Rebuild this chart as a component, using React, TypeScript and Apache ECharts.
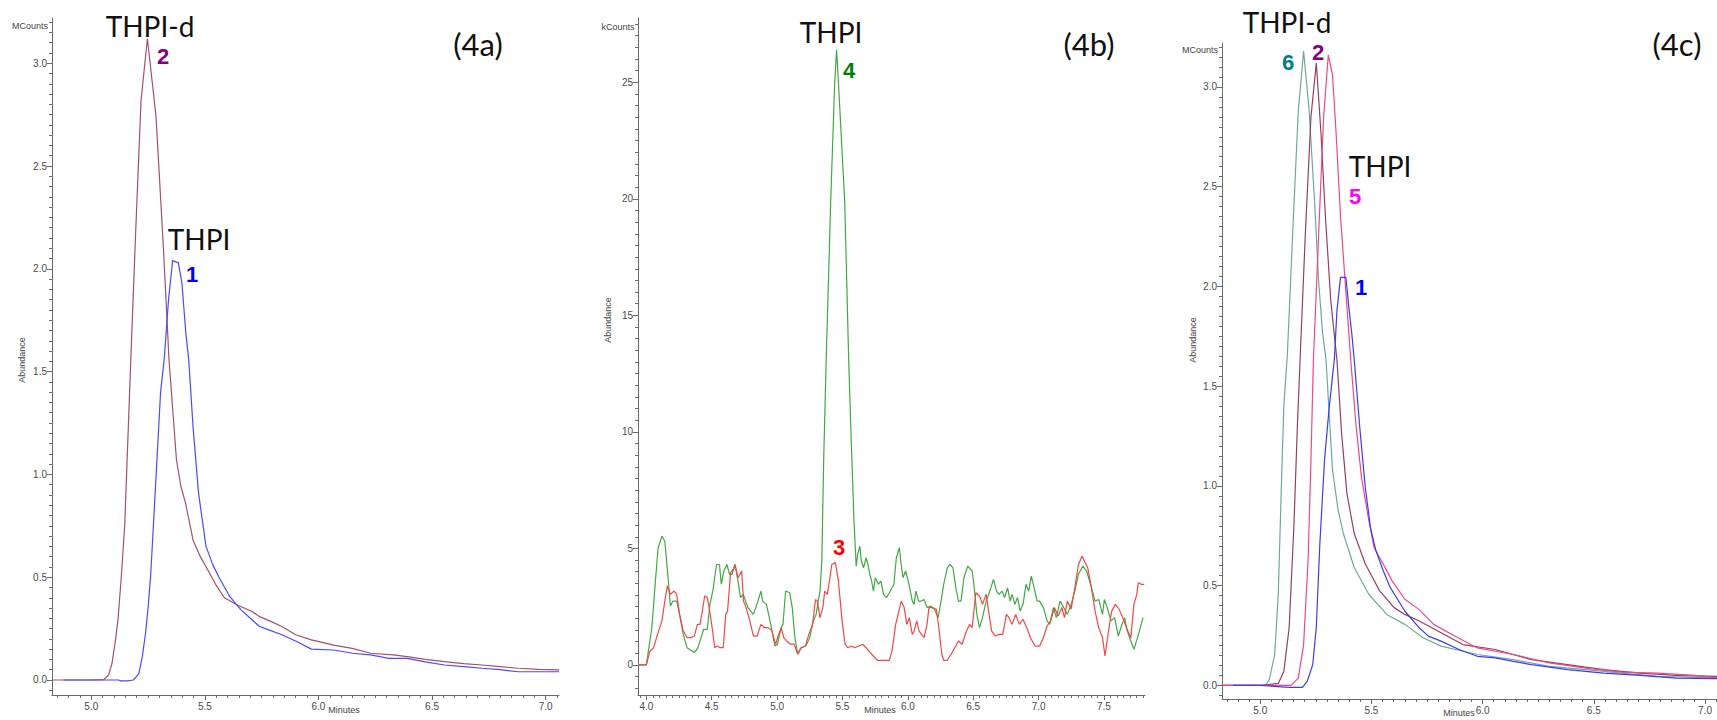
import React, { useEffect, useRef } from "react";
import * as echarts from "echarts";

// ---------- Panel (4a) ----------
const A_THPI_D: number[][] = [
  [4.83, 0], [5.0, 0], [5.055, 0.002], [5.076, 0.024], [5.091, 0.08], [5.106, 0.19], [5.118, 0.3], [5.132, 0.5],
  [5.147, 0.75], [5.163, 1.23], [5.174, 1.56], [5.195, 2.17], [5.219, 2.82], [5.247, 3.12], [5.285, 2.74], [5.318, 2.09],
  [5.342, 1.56], [5.375, 1.07], [5.395, 0.94], [5.415, 0.86], [5.448, 0.68], [5.48, 0.6], [5.513, 0.535], [5.55, 0.46],
  [5.586, 0.4], [5.643, 0.365], [5.708, 0.333], [5.741, 0.308], [5.79, 0.285], [5.839, 0.26], [5.9, 0.22], [5.969, 0.195],
  [6.067, 0.17], [6.148, 0.154], [6.23, 0.13], [6.33, 0.122], [6.39, 0.114], [6.47, 0.1], [6.555, 0.089], [6.64, 0.08],
  [6.72, 0.073], [6.8, 0.065], [6.88, 0.057], [6.97, 0.052], [7.06, 0.049],
];
const A_THPI: number[][] = [
  [4.878, 0], [5.0, 0], [5.12, 0], [5.13, -0.004], [5.16, -0.004], [5.185, 0], [5.209, 0.03], [5.224, 0.11],
  [5.238, 0.22], [5.25, 0.35], [5.262, 0.52], [5.285, 0.99], [5.305, 1.4], [5.321, 1.56], [5.34, 1.85], [5.358, 2.04],
  [5.383, 2.03], [5.399, 1.93], [5.416, 1.69], [5.429, 1.556], [5.448, 1.23], [5.472, 0.91], [5.505, 0.65], [5.535, 0.56],
  [5.562, 0.5], [5.61, 0.405], [5.66, 0.34], [5.7, 0.3], [5.741, 0.26], [5.79, 0.24], [5.839, 0.22], [5.904, 0.187],
  [5.969, 0.15], [6.067, 0.146], [6.15, 0.13], [6.23, 0.122], [6.31, 0.105], [6.39, 0.105], [6.47, 0.088], [6.555, 0.073],
  [6.64, 0.065], [6.72, 0.057], [6.8, 0.05], [6.88, 0.04], [6.97, 0.04], [7.06, 0.04],
];

// ---------- Panel (4b) ----------
const B_THPI_GREEN: number[][] = [
  [3.94, 0], [4.0, 0], [4.042, 1.6], [4.071, 3.74], [4.09, 5.03], [4.119, 5.53], [4.141, 5.31], [4.164, 3.89],
  [4.184, 2.53], [4.203, 2.74], [4.232, 2.74], [4.254, 2.17], [4.282, 1.31], [4.311, 0.74], [4.367, 0.53], [4.395, 0.74],
  [4.438, 1.53], [4.466, 1.53], [4.486, 2.6], [4.508, 3.17], [4.537, 4.31], [4.559, 4.31], [4.573, 3.46], [4.593, 4.03],
  [4.616, 4.31], [4.636, 3.89], [4.655, 3.89], [4.678, 4.31], [4.701, 3.6], [4.72, 2.89], [4.74, 3.03], [4.777, 2.46],
  [4.819, 2.17], [4.853, 2.74], [4.876, 3.17], [4.89, 2.74], [4.918, 2.6], [4.946, 1.89], [4.983, 0.81], [5.003, 0.89],
  [5.031, 1.6], [5.045, 1.74], [5.065, 3.17], [5.096, 3.1], [5.116, 2.46], [5.136, 1.17], [5.158, 0.46], [5.186, 0.74],
  [5.22, 0.81], [5.249, 1.17], [5.277, 1.89], [5.299, 2.17], [5.314, 2.74], [5.328, 3.17], [5.342, 4.46], [5.356, 8.74],
  [5.375, 13.0], [5.41, 19.9], [5.44, 24.9], [5.455, 26.4], [5.47, 24.9], [5.517, 19.9], [5.548, 13.0], [5.568, 9.46],
  [5.588, 6.17], [5.605, 4.24], [5.616, 4.74], [5.633, 5.1], [5.644, 4.46], [5.661, 4.17], [5.681, 4.6], [5.695, 4.31],
  [5.709, 3.89], [5.723, 3.6], [5.737, 3.17], [5.751, 3.74], [5.774, 3.46], [5.794, 3.6], [5.814, 3.03], [5.836, 2.89],
  [5.859, 3.1], [5.893, 3.46], [5.912, 4.6], [5.935, 5.03], [5.949, 4.31], [5.963, 3.74], [5.983, 4.03], [6.006, 3.53],
  [6.034, 2.74], [6.048, 2.6], [6.062, 3.17], [6.082, 2.74], [6.105, 2.74], [6.124, 2.81], [6.147, 2.46], [6.175, 2.53],
  [6.203, 2.39], [6.232, 2.03], [6.254, 2.74], [6.274, 3.46], [6.302, 4.17], [6.322, 4.31], [6.345, 4.17], [6.367, 3.31],
  [6.387, 2.74], [6.407, 2.74], [6.429, 3.74], [6.458, 4.24], [6.492, 4.03], [6.508, 3.31], [6.528, 2.17], [6.548, 1.6],
  [6.571, 2.03], [6.599, 2.74], [6.627, 3.17], [6.655, 3.67], [6.678, 3.17], [6.698, 3.03], [6.72, 3.17], [6.74, 2.89],
  [6.763, 3.31], [6.782, 2.74], [6.797, 3.03], [6.819, 2.6], [6.839, 2.89], [6.859, 2.31], [6.881, 2.6], [6.904, 3.46],
  [6.924, 3.17], [6.944, 3.81], [6.966, 3.31], [6.989, 2.74], [7.008, 2.74], [7.037, 2.46], [7.065, 1.89], [7.085, 1.74],
  [7.113, 2.46], [7.136, 2.03], [7.164, 2.74], [7.192, 2.46], [7.22, 2.17], [7.249, 2.6], [7.277, 3.17], [7.305, 3.89],
  [7.339, 4.24], [7.367, 4.03], [7.39, 3.6], [7.412, 3.17], [7.432, 2.74], [7.46, 2.81], [7.489, 2.17], [7.503, 2.81],
  [7.525, 2.46], [7.554, 1.89], [7.582, 2.03], [7.61, 1.24], [7.638, 1.74], [7.658, 2.03], [7.678, 1.46], [7.701, 1.1],
  [7.729, 0.67], [7.757, 1.17], [7.799, 2.03],
];
const B_THPI_RED: number[][] = [
  [3.94, 0], [4.0, 0], [4.028, 0.6], [4.056, 0.74], [4.085, 1.31], [4.119, 1.89], [4.141, 2.74], [4.161, 3.39],
  [4.184, 3.03], [4.212, 3.17], [4.232, 3.03], [4.254, 2.17], [4.282, 1.46], [4.311, 1.17], [4.339, 1.17], [4.367, 1.24],
  [4.39, 1.74], [4.41, 1.74], [4.424, 2.17], [4.446, 2.96], [4.466, 2.89], [4.48, 2.46], [4.503, 1.6], [4.523, 0.74],
  [4.542, 0.81], [4.565, 0.74], [4.588, 0.74], [4.607, 2.17], [4.621, 2.31], [4.644, 3.96], [4.664, 4.1], [4.678, 4.31],
  [4.701, 3.74], [4.729, 4.03], [4.743, 2.74], [4.763, 2.46], [4.791, 1.89], [4.819, 1.24], [4.847, 1.24], [4.876, 1.74],
  [4.904, 1.6], [4.932, 1.6], [4.96, 1.46], [4.989, 0.89], [5.011, 1.31], [5.031, 1.6], [5.051, 1.17], [5.073, 1.03],
  [5.102, 0.89], [5.13, 0.89], [5.158, 0.46], [5.181, 0.74], [5.215, 0.81], [5.243, 1.31], [5.271, 1.74], [5.294, 2.81],
  [5.308, 2.74], [5.328, 2.03], [5.35, 2.46], [5.364, 3.17], [5.384, 3.03], [5.404, 3.74], [5.418, 4.31], [5.446, 4.39],
  [5.469, 3.6], [5.497, 1.89], [5.52, 0.89], [5.54, 0.74], [5.568, 0.81], [5.596, 0.74], [5.624, 0.81], [5.653, 0.89],
  [5.681, 0.74], [5.723, 0.46], [5.766, 0.2], [5.808, 0.2], [5.859, 0.2], [5.879, 0.6], [5.907, 1.74], [5.935, 2.39],
  [5.949, 2.74], [5.972, 2.46], [5.992, 1.74], [6.011, 2.03], [6.034, 1.31], [6.048, 1.46], [6.068, 1.89], [6.085, 1.46],
  [6.105, 1.31], [6.124, 1.17], [6.147, 1.74], [6.161, 2.46], [6.189, 2.46], [6.218, 2.39], [6.237, 1.6], [6.26, 0.46],
  [6.274, 0.2], [6.302, 0.2], [6.331, 0.46], [6.359, 0.74], [6.387, 1.03], [6.415, 0.89], [6.444, 1.39], [6.472, 1.74],
  [6.492, 1.6], [6.52, 3.1], [6.548, 2.96], [6.571, 2.6], [6.599, 3.03], [6.621, 2.17], [6.641, 1.46], [6.669, 1.24],
  [6.698, 1.31], [6.726, 1.31], [6.754, 2.17], [6.774, 2.03], [6.797, 1.74], [6.825, 2.17], [6.853, 1.74], [6.881, 1.96],
  [6.91, 1.6], [6.938, 1.17], [6.972, 0.81], [7.008, 0.81], [7.037, 1.17], [7.065, 1.67], [7.093, 1.89], [7.121, 2.46],
  [7.15, 2.1], [7.178, 2.46], [7.198, 2.03], [7.22, 2.74], [7.249, 2.39], [7.277, 3.31], [7.305, 4.31], [7.333, 4.67],
  [7.356, 4.39], [7.376, 4.17], [7.404, 3.31], [7.432, 2.31], [7.46, 1.6], [7.489, 1.17], [7.508, 0.39], [7.531, 1.31],
  [7.559, 2.31], [7.588, 2.6], [7.616, 2.39], [7.644, 2.03], [7.672, 1.6], [7.706, 1.17], [7.729, 2.6], [7.751, 3.03],
  [7.763, 3.53], [7.785, 3.46], [7.808, 3.46],
];

// ---------- Panel (4c) ----------
const C_TEAL_6: number[][] = [
  [4.83, 0], [5.0, 0], [5.024, 0], [5.041, 0.03], [5.065, 0.155], [5.081, 0.457], [5.094, 0.96], [5.106, 1.4],
  [5.122, 1.66], [5.146, 2.27], [5.171, 2.88], [5.195, 3.18], [5.22, 2.88], [5.244, 2.43], [5.263, 2.02], [5.28, 1.77],
  [5.296, 1.63], [5.309, 1.38], [5.325, 1.08], [5.35, 0.88], [5.374, 0.76], [5.423, 0.59], [5.488, 0.457], [5.569, 0.356],
  [5.65, 0.306], [5.732, 0.239], [5.813, 0.197], [5.976, 0.155], [6.138, 0.129], [6.3, 0.096], [6.463, 0.079],
  [6.626, 0.062], [6.789, 0.045], [6.95, 0.04], [7.057, 0.037],
];
const C_MAROON_2: number[][] = [
  [4.83, 0], [5.0, 0], [5.081, 0.01], [5.106, 0.07], [5.13, 0.29], [5.151, 0.79], [5.167, 1.3], [5.179, 1.63],
  [5.203, 2.27], [5.228, 2.85], [5.252, 3.12], [5.273, 2.77], [5.293, 2.35], [5.317, 1.93], [5.345, 1.63], [5.366, 1.26],
  [5.39, 0.96], [5.423, 0.76], [5.472, 0.61], [5.537, 0.474], [5.602, 0.39], [5.65, 0.356], [5.715, 0.323],
  [5.813, 0.264], [5.911, 0.205], [6.057, 0.18], [6.22, 0.129], [6.382, 0.104], [6.545, 0.079], [6.707, 0.062],
  [6.87, 0.05], [7.057, 0.045],
];
const C_PINK_5: number[][] = [
  [4.83, 0], [5.0, 0], [5.138, 0], [5.171, 0.037], [5.195, 0.205], [5.215, 0.625], [5.228, 1.13], [5.239, 1.63],
  [5.263, 2.27], [5.285, 2.85], [5.306, 3.16], [5.325, 3.06], [5.341, 2.77], [5.361, 2.35], [5.382, 2.02], [5.398, 1.77],
  [5.407, 1.63], [5.431, 1.3], [5.455, 1.045], [5.488, 0.827], [5.512, 0.69], [5.545, 0.625], [5.593, 0.524],
  [5.65, 0.432], [5.715, 0.38], [5.78, 0.306], [5.862, 0.255], [5.976, 0.188], [6.138, 0.155], [6.3, 0.113],
  [6.463, 0.087], [6.626, 0.067], [6.789, 0.062], [6.95, 0.05], [7.057, 0.037],
];
const C_BLUE_1: number[][] = [
  [4.878, 0], [5.0, 0], [5.13, -0.01], [5.19, -0.01], [5.211, 0.02], [5.236, 0.104], [5.252, 0.29], [5.268, 0.71],
  [5.289, 1.13], [5.309, 1.38], [5.325, 1.55], [5.333, 1.63], [5.345, 1.88], [5.361, 2.045], [5.385, 2.045], [5.398, 1.9],
  [5.411, 1.77], [5.423, 1.63], [5.447, 1.3], [5.472, 0.995], [5.496, 0.79], [5.52, 0.676], [5.553, 0.575],
  [5.585, 0.49], [5.65, 0.373], [5.715, 0.289], [5.756, 0.247], [5.813, 0.222], [5.894, 0.18], [5.976, 0.146],
  [6.057, 0.138], [6.138, 0.121], [6.22, 0.104], [6.382, 0.079], [6.545, 0.062], [6.707, 0.05], [6.87, 0.037],
  [7.057, 0.034],
];

// ---------- Axis ticks ----------
const X_MAJOR_AC = [5.0, 5.5, 6.0, 6.5, 7.0];
const X_MINOR_AC = [4.85, 4.9, 4.95, 5, 5.05, 5.1, 5.15, 5.2, 5.25, 5.3, 5.35, 5.4, 5.45, 5.5, 5.55, 5.6, 5.65, 5.7,
  5.75, 5.8, 5.85, 5.9, 5.95, 6, 6.05, 6.1, 6.15, 6.2, 6.25, 6.3, 6.35, 6.4, 6.45, 6.5, 6.55, 6.6, 6.65, 6.7, 6.75, 6.8,
  6.85, 6.9, 6.95, 7, 7.05];
const Y_MAJOR_AC = [0, 0.5, 1.0, 1.5, 2.0, 2.5, 3.0];
const Y_MINOR_AC = [-0.05, 0, 0.05, 0.1, 0.15, 0.2, 0.25, 0.3, 0.35, 0.4, 0.45, 0.5, 0.55, 0.6, 0.65, 0.7, 0.75, 0.8,
  0.85, 0.9, 0.95, 1, 1.05, 1.1, 1.15, 1.2, 1.25, 1.3, 1.35, 1.4, 1.45, 1.5, 1.55, 1.6, 1.65, 1.7, 1.75, 1.8, 1.85, 1.9,
  1.95, 2, 2.05, 2.1, 2.15, 2.2, 2.25, 2.3, 2.35, 2.4, 2.45, 2.5, 2.55, 2.6, 2.65, 2.7, 2.75, 2.8, 2.85, 2.9, 2.95, 3,
  3.05, 3.1, 3.15, 3.2];
const X_MAJOR_B = [4.0, 4.5, 5.0, 5.5, 6.0, 6.5, 7.0, 7.5];
const X_MINOR_B = [3.95, 4, 4.05, 4.1, 4.15, 4.2, 4.25, 4.3, 4.35, 4.4, 4.45, 4.5, 4.55, 4.6, 4.65, 4.7, 4.75, 4.8,
  4.85, 4.9, 4.95, 5, 5.05, 5.1, 5.15, 5.2, 5.25, 5.3, 5.35, 5.4, 5.45, 5.5, 5.55, 5.6, 5.65, 5.7, 5.75, 5.8, 5.85, 5.9,
  5.95, 6, 6.05, 6.1, 6.15, 6.2, 6.25, 6.3, 6.35, 6.4, 6.45, 6.5, 6.55, 6.6, 6.65, 6.7, 6.75, 6.8, 6.85, 6.9, 6.95, 7,
  7.05, 7.1, 7.15, 7.2, 7.25, 7.3, 7.35, 7.4, 7.45, 7.5, 7.55, 7.6, 7.65, 7.7, 7.75, 7.8];
const Y_MAJOR_B = [0, 5, 10, 15, 20, 25];
const Y_MINOR_B = [-1, -0.5, 0, 0.5, 1, 1.5, 2, 2.5, 3, 3.5, 4, 4.5, 5, 5.5, 6, 6.5, 7, 7.5, 8, 8.5, 9, 9.5, 10, 10.5,
  11, 11.5, 12, 12.5, 13, 13.5, 14, 14.5, 15, 15.5, 16, 16.5, 17, 17.5, 18, 18.5, 19, 19.5, 20, 20.5, 21, 21.5, 22,
  22.5, 23, 23.5, 24, 24.5, 25, 25.5, 26, 26.5, 27, 27.5];

const AXIS_COLOR = "#6a6a6a";
const LABEL_COLOR = "#4a4a4a";
const TICK_FONT = "Liberation Sans";

function xAxes(grid: number, min: number, max: number, major: number[], minor: number[]) {
  return [
    {
      type: "value", gridIndex: grid, min, max, position: "bottom",
      axisLine: { show: true, onZero: false, lineStyle: { color: AXIS_COLOR, width: 1 } },
      axisTick: { show: true, length: 5, customValues: major, lineStyle: { color: AXIS_COLOR } },
      axisLabel: {
        customValues: major, formatter: (v: number) => v.toFixed(1), fontSize: 10,
        color: LABEL_COLOR, fontFamily: TICK_FONT, margin: 6,
      },
      splitLine: { show: false },
    },
    {
      type: "value", gridIndex: grid, min, max, position: "bottom",
      axisLine: { show: false, onZero: false },
      axisTick: { show: true, length: 3, customValues: minor, lineStyle: { color: AXIS_COLOR } },
      axisLabel: { show: false },
      splitLine: { show: false },
    },
  ];
}

function yAxes(grid: number, min: number, max: number, major: number[], minor: number[], digits: number) {
  return [
    {
      type: "value", gridIndex: grid, min, max, position: "left",
      axisLine: { show: true, onZero: false, lineStyle: { color: AXIS_COLOR, width: 1 } },
      axisTick: { show: true, length: 5, customValues: major, lineStyle: { color: AXIS_COLOR } },
      axisLabel: {
        customValues: major, formatter: (v: number) => v.toFixed(digits), fontSize: 10,
        color: LABEL_COLOR, fontFamily: TICK_FONT, margin: 5,
      },
      splitLine: { show: false },
    },
    {
      type: "value", gridIndex: grid, min, max, position: "left",
      axisLine: { show: false, onZero: false },
      axisTick: { show: true, length: 3, customValues: minor, lineStyle: { color: AXIS_COLOR } },
      axisLabel: { show: false },
      splitLine: { show: false },
    },
  ];
}

function line(data: number[][], grid: number, color: string, z = 2) {
  return {
    type: "line", data, xAxisIndex: grid * 2, yAxisIndex: grid * 2,
    showSymbol: false, symbol: "none", smooth: false, z,
    lineStyle: { color, width: 1.2 },
  };
}

const BIG = '28px Lato';
const PANEL = '31px Lato';
const NUM = 'bold 22px "Liberation Sans"';
const SMALL = '9px "Liberation Sans"';

function txt(text: string, x: number, y: number, font: string, fill: string, rotation = 0) {
  return {
    type: "text", x, y, rotation, z: 100,
    style: { text, font, fill, align: "center", verticalAlign: "middle" },
  };
}

export default function App() {
  const ref = useRef<HTMLDivElement>(null);
  useEffect(() => {
    document.body.style.margin = "0";
    const chart = echarts.init(ref.current!, null, { renderer: "svg" });
    const option: any = {
      animation: false,
      backgroundColor: "#ffffff",
      grid: [
        { left: 52, top: 18, width: 507, height: 677, outerBoundsMode: "none" },
        { left: 638, top: 18, width: 507, height: 677, outerBoundsMode: "none" },
        { left: 1222, top: 43, width: 495, height: 656, outerBoundsMode: "none" },
      ],
      xAxis: [
        ...xAxes(0, 4.827, 7.059, X_MAJOR_AC, X_MINOR_AC),
        ...xAxes(1, 3.936, 7.814, X_MAJOR_B, X_MINOR_B),
        ...xAxes(2, 4.828, 7.054, X_MAJOR_AC, X_MINOR_AC),
      ],
      yAxis: [
        ...yAxes(0, -0.073, 3.22, Y_MAJOR_AC, Y_MINOR_AC, 1),
        ...yAxes(1, -1.29, 27.76, Y_MAJOR_B, Y_MINOR_B, 0),
        ...yAxes(2, -0.068, 3.22, Y_MAJOR_AC, Y_MINOR_AC, 1),
      ],
      series: [
        line(A_THPI_D, 0, "#a3506f"),
        line(A_THPI, 0, "#4a4aff", 3),
        line(B_THPI_GREEN, 1, "#43a843"),
        line(B_THPI_RED, 1, "#f04848", 3),
        line(C_TEAL_6, 2, "#6fa89c"),
        line(C_MAROON_2, 2, "#94405f"),
        line(C_PINK_5, 2, "#f0468a"),
        line(C_BLUE_1, 2, "#3c3cf0", 3),
      ],
      graphic: [
        // panel a
        txt("MCounts", 30, 26, SMALL, "#444"),
        txt("Abundance", 22, 360, SMALL, "#444", Math.PI / 2),
        txt("Minutes", 344, 710, SMALL, "#444"),
        txt("THPI-d", 150, 26, BIG, "#111"),
        txt("2", 163, 56, NUM, "#800080"),
        txt("THPI", 199, 239, BIG, "#111"),
        txt("1", 192, 274, NUM, "#0000ff"),
        txt("(4a)", 478, 44, PANEL, "#111"),
        // panel b
        txt("kCounts", 618, 27, SMALL, "#444"),
        txt("Abundance", 608, 320, SMALL, "#444", Math.PI / 2),
        txt("Minutes", 880, 710, SMALL, "#444"),
        txt("THPI", 831, 32, BIG, "#111"),
        txt("4", 849, 70, NUM, "#008000"),
        txt("3", 839, 547, NUM, "#ff0000"),
        txt("(4b)", 1089, 44, PANEL, "#111"),
        // panel c
        txt("MCounts", 1200, 50, SMALL, "#444"),
        txt("Abundance", 1193, 340, SMALL, "#444", Math.PI / 2),
        txt("Minutes", 1459, 713, SMALL, "#444"),
        txt("THPI-d", 1287, 22, BIG, "#111"),
        txt("6", 1288, 62, NUM, "#008080"),
        txt("2", 1318, 52, NUM, "#800080"),
        txt("THPI", 1380, 166, BIG, "#111"),
        txt("5", 1355, 196, NUM, "#ff00ff"),
        txt("1", 1361, 287, NUM, "#0000ff"),
        txt("(4c)", 1677, 44, PANEL, "#111"),
      ],
    };
    chart.setOption(option);
    return () => chart.dispose();
  }, []);
  return <div ref={ref} style={{ width: 1717, height: 720 }} />;
}
